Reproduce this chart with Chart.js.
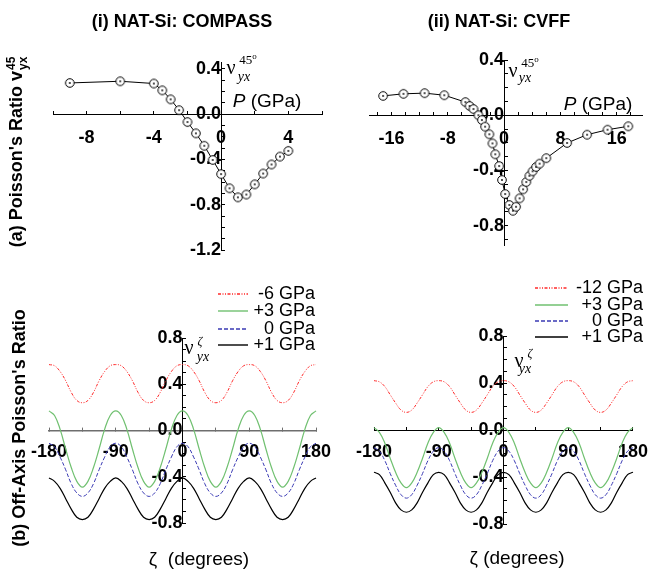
<!DOCTYPE html>
<html>
<head>
<meta charset="utf-8">
<script src="https://cdn.jsdelivr.net/npm/chart.js@4.4.1/dist/chart.umd.min.js"></script>
<style>
body { margin: 0; background: #fff; }
#page { position: relative; width: 663px; height: 570px; overflow: hidden; font-family: "Liberation Sans", Arial, sans-serif; color: #000; }
canvas { position: absolute; left: 0; top: 0; }
.t { position: absolute; white-space: nowrap; transform: translate(-50%, -50%); line-height: 1; }
.bold { font-weight: bold; font-size: 18px; }
.rot { transform: translate(-50%, -50%) rotate(-90deg); }
.serif { font-family: "Liberation Serif", "Times New Roman", serif; }
.ss { display: inline-flex; flex-direction: column; vertical-align: middle; font-size: 12px; line-height: 1; margin-left: 1px; }
</style>
</head>
<body>
<div id="page">
  <canvas id="compassP" width="663" height="570"></canvas>
  <canvas id="cvffP" width="663" height="570"></canvas>
  <canvas id="compassZ" width="663" height="570"></canvas>
  <canvas id="cvffZ" width="663" height="570"></canvas>

  <div class="t bold" style="left:182px; top:21px;">(i) NAT-Si: COMPASS</div>
  <div class="t bold" style="left:499px; top:21px;">(ii) NAT-Si: CVFF</div>

  <div class="t bold rot" style="left:17px; top:152px;">(a) Poisson's Ratio v<span class="ss"><span>45</span><span>yx</span></span></div>
  <div class="t bold rot" style="left:19px; top:428px;">(b) Off-Axis Poisson's Ratio</div>

  <div class="t" style="left:199px; top:558px; font-size:19px;">ζ&nbsp; (degrees)</div>
  <div class="t" style="left:517px; top:557px; font-size:19px;">ζ (degrees)</div>

  <div class="t" style="left:267px; top:100px; font-size:19px;"><i>P</i> (GPa)</div>
  <div class="t" style="left:598px; top:103px; font-size:19px;"><i>P</i> (GPa)</div>

  <!-- nu labels -->
  <div class="t serif" style="left:231px; top:67px; font-size:20px;">ν</div>
  <div class="t serif" style="left:248px; top:59px; font-size:13px;">45<sup style="font-size:9px;">o</sup></div>
  <div class="t serif" style="left:244px; top:77px; font-size:14px;"><i>yx</i></div>

  <div class="t serif" style="left:513px; top:70px; font-size:20px;">ν</div>
  <div class="t serif" style="left:530px; top:62px; font-size:13px;">45<sup style="font-size:9px;">o</sup></div>
  <div class="t serif" style="left:525px; top:78px; font-size:14px;"><i>yx</i></div>

  <div class="t serif" style="left:189px; top:347px; font-size:20px;">ν</div>
  <div class="t serif" style="left:200px; top:341px; font-size:12px;"><i>ζ</i></div>
  <div class="t serif" style="left:203px; top:357px; font-size:14px;"><i>yx</i></div>

  <div class="t serif" style="left:519px; top:360px; font-size:20px;">ν</div>
  <div class="t serif" style="left:530px; top:353px; font-size:12px;"><i>ζ</i></div>
  <div class="t serif" style="left:525px; top:369px; font-size:14px;"><i>yx</i></div>
</div>
<script>
'use strict';

// (a)(i) COMPASS: nu_yx(45) against pressure
const compassPressure = [-9, -6, -4, -3.5, -3, -2.5, -2, -1.5, -1, -0.5, 0, 0.5, 1, 1.5, 2, 2.5, 3, 3.5, 4];
const compassNu45 = [0.275, 0.29, 0.27, 0.21, 0.13, 0.035, -0.07, -0.17, -0.28, -0.405, -0.53, -0.655, -0.735, -0.71, -0.62, -0.525, -0.445, -0.375, -0.325];

// (a)(ii) CVFF: nu_yx(45) against pressure
const cvffPressure = [-17.2, -14.3, -11.3, -8.5, -5.5, -4.9, -4.35, -3.65, -3.15, -2.7, -2.1, -1.65, -1.25, -0.7, -0.3, 0.15, 0.75, 1.25, 1.7, 2.2, 2.7, 3.15, 3.6, 4.05, 4.55, 5.05, 6.0, 8.95, 11.8, 14.7, 17.65];
const cvffNu45 = [0.14, 0.155, 0.16, 0.145, 0.095, 0.067, 0.045, 0.0, -0.035, -0.083, -0.138, -0.204, -0.283, -0.368, -0.469, -0.571, -0.65, -0.692, -0.663, -0.602, -0.537, -0.484, -0.439, -0.406, -0.375, -0.351, -0.311, -0.201, -0.141, -0.105, -0.08];

// (b) off-axis angle zeta (degrees)
const zeta = [-180, -172.5, -165, -157.5, -150, -142.5, -135, -127.5, -120, -112.5, -105, -97.5,
  -90, -82.5, -75, -67.5, -60, -52.5, -45, -37.5, -30, -22.5, -15, -7.5,
  0, 7.5, 15, 22.5, 30, 37.5, 45, 52.5, 60, 67.5, 75, 82.5,
  90, 97.5, 105, 112.5, 120, 127.5, 135, 142.5, 150, 157.5, 165, 172.5, 180];

// (b)(i) COMPASS
const compassMinus6 = [0.57, 0.56, 0.51, 0.43, 0.33, 0.26, 0.24, 0.26, 0.33, 0.43, 0.51, 0.56,
  0.57, 0.56, 0.51, 0.43, 0.33, 0.26, 0.24, 0.26, 0.33, 0.43, 0.51, 0.56,
  0.57, 0.56, 0.51, 0.43, 0.33, 0.26, 0.24, 0.26, 0.33, 0.43, 0.51, 0.56,
  0.57, 0.56, 0.51, 0.43, 0.33, 0.26, 0.24, 0.26, 0.33, 0.43, 0.51, 0.56, 0.57];
const compassPlus3 = [0.17, 0.13, 0.01, -0.16, -0.32, -0.44, -0.49, -0.44, -0.32, -0.16, 0.01, 0.13,
  0.17, 0.13, 0.01, -0.16, -0.32, -0.44, -0.49, -0.44, -0.32, -0.16, 0.01, 0.13,
  0.17, 0.13, 0.01, -0.16, -0.32, -0.44, -0.49, -0.44, -0.32, -0.16, 0.01, 0.13,
  0.17, 0.13, 0.01, -0.16, -0.32, -0.44, -0.49, -0.44, -0.32, -0.16, 0.01, 0.13, 0.17];
const compassZero = [-0.11, -0.14, -0.23, -0.34, -0.46, -0.54, -0.57, -0.54, -0.46, -0.34, -0.23, -0.14,
  -0.11, -0.14, -0.23, -0.34, -0.46, -0.54, -0.57, -0.54, -0.46, -0.34, -0.23, -0.14,
  -0.11, -0.14, -0.23, -0.34, -0.46, -0.54, -0.57, -0.54, -0.46, -0.34, -0.23, -0.14,
  -0.11, -0.14, -0.23, -0.34, -0.46, -0.54, -0.57, -0.54, -0.46, -0.34, -0.23, -0.14, -0.11];
const compassPlus1 = [-0.41, -0.44, -0.50, -0.59, -0.68, -0.75, -0.77, -0.75, -0.68, -0.59, -0.50, -0.44,
  -0.41, -0.44, -0.50, -0.59, -0.68, -0.75, -0.77, -0.75, -0.68, -0.59, -0.50, -0.44,
  -0.41, -0.44, -0.50, -0.59, -0.68, -0.75, -0.77, -0.75, -0.68, -0.59, -0.50, -0.44,
  -0.41, -0.44, -0.50, -0.59, -0.68, -0.75, -0.77, -0.75, -0.68, -0.59, -0.50, -0.44, -0.41];

// (b)(ii) CVFF
const cvffMinus12 = [0.42, 0.41, 0.37, 0.30, 0.23, 0.17, 0.15, 0.17, 0.23, 0.30, 0.37, 0.41,
  0.42, 0.41, 0.37, 0.30, 0.23, 0.17, 0.15, 0.17, 0.23, 0.30, 0.37, 0.41,
  0.42, 0.41, 0.37, 0.30, 0.23, 0.17, 0.15, 0.17, 0.23, 0.30, 0.37, 0.41,
  0.42, 0.41, 0.37, 0.30, 0.23, 0.17, 0.15, 0.17, 0.23, 0.30, 0.37, 0.41, 0.42];
const cvffPlus3 = [0.02, -0.02, -0.11, -0.24, -0.36, -0.45, -0.49, -0.45, -0.36, -0.24, -0.11, -0.02,
  0.02, -0.02, -0.11, -0.24, -0.36, -0.45, -0.49, -0.45, -0.36, -0.24, -0.11, -0.02,
  0.02, -0.02, -0.11, -0.24, -0.36, -0.45, -0.49, -0.45, -0.36, -0.24, -0.11, -0.02,
  0.02, -0.02, -0.11, -0.24, -0.36, -0.45, -0.49, -0.45, -0.36, -0.24, -0.11, -0.02, 0.02];
const cvffZero = [-0.15, -0.18, -0.26, -0.37, -0.47, -0.55, -0.58, -0.55, -0.47, -0.37, -0.26, -0.18,
  -0.15, -0.18, -0.26, -0.37, -0.47, -0.55, -0.58, -0.55, -0.47, -0.37, -0.26, -0.18,
  -0.15, -0.18, -0.26, -0.37, -0.47, -0.55, -0.58, -0.55, -0.47, -0.37, -0.26, -0.18,
  -0.15, -0.18, -0.26, -0.37, -0.47, -0.55, -0.58, -0.55, -0.47, -0.37, -0.26, -0.18, -0.15];
const cvffPlus1 = [-0.36, -0.38, -0.45, -0.53, -0.62, -0.68, -0.70, -0.68, -0.62, -0.53, -0.45, -0.38,
  -0.36, -0.38, -0.45, -0.53, -0.62, -0.68, -0.70, -0.68, -0.62, -0.53, -0.45, -0.38,
  -0.36, -0.38, -0.45, -0.53, -0.62, -0.68, -0.70, -0.68, -0.62, -0.53, -0.45, -0.38,
  -0.36, -0.38, -0.45, -0.53, -0.62, -0.68, -0.70, -0.68, -0.62, -0.53, -0.45, -0.38, -0.36];

const compassLegend = ['-6 GPa', '+3 GPa', '0 GPa', '+1 GPa'];
const cvffLegend = ['-12 GPa', '+3 GPa', '0 GPa', '+1 GPa'];

// tick labels
const compassPTicks = [-8, -4, 0, 4];
const cvffPTicks = [-16, -8, 0, 8, 16];
const nuTicksA1 = [0.4, 0, -0.4, -0.8, -1.2];
const nuTicksA2 = [0.4, 0, -0.4, -0.8];
const zetaTicks = [-180, -90, 0, 90, 180];
const nuTicksB = [0.8, 0.4, 0, -0.4, -0.8];

const tickFont = {family: 'Liberation Sans', weight: 'bold', size: 18};

function hasTick(list, v) {
    return list.some(t => Math.abs(t - v) < 1e-6);
}

// tick marks at every multiple of step inside the range
function stepTicks(step) {
    return s => {
        const out = [];
        const k0 = Math.ceil(s.min / step - 1e-6);
        const k1 = Math.floor(s.max / step + 1e-6);
        for (let k = k0; k <= k1; k++) {
            out.push({value: +(k * step).toFixed(6)});
        }
        s.ticks = out;
    };
}

function xAxis(min, max, step, labels, pad, lineColor, lineWidth) {
    return {
        type: 'linear', min: min, max: max, position: {y: 0}, z: 1,
        afterFit: s => { s.height = 0; },
        afterBuildTicks: stepTicks(step),
        border: {color: lineColor || '#000', width: lineWidth || 1},
        grid: {drawOnChartArea: false, tickLength: -4, color: lineColor || '#000'},
        ticks: {
            padding: pad, color: '#000', font: tickFont,
            autoSkip: false, maxRotation: 0, minRotation: 0,
            callback: v => hasTick(labels, v) ? String(Math.round(v)) : ''
        }
    };
}

function yAxis(min, max, step, labels, pad, z) {
    return {
        type: 'linear', min: min, max: max, position: {x: 0}, z: z,
        afterFit: s => { s.width = 0; },
        afterBuildTicks: stepTicks(step),
        border: {color: '#000', width: 1},
        grid: {drawOnChartArea: false, tickLength: -4, color: '#000'},
        ticks: {
            padding: pad, color: '#000', font: tickFont, autoSkip: false,
            callback: v => hasTick(labels, v) ? (Math.abs(v) < 1e-9 ? '0.0' : v.toFixed(1)) : ''
        }
    };
}

// open circle with a dot in the middle
function makeMarker() {
    const c = document.createElement('canvas');
    c.width = 12;
    c.height = 12;
    const g = c.getContext('2d');
    g.fillStyle = '#fff';
    g.strokeStyle = '#000';
    g.lineWidth = 1;
    g.beginPath();
    g.arc(6, 6, 4.3, 0, Math.PI * 2);
    g.fill();
    g.stroke();
    g.fillStyle = '#000';
    g.beginPath();
    g.arc(6, 6, 0.9, 0, Math.PI * 2);
    g.fill();
    return c;
}
const marker = makeMarker();

function pairs(xs, ys) {
    return xs.map((x, i) => ({x: x, y: ys[i]}));
}

function pressureChart(id, xs, ys, pad, xr, yr, xTicks, yTicks, yPad) {
    new Chart(document.getElementById(id), {
        type: 'line',
        data: {
            datasets: [{
                data: pairs(xs, ys),
                borderColor: '#000', borderWidth: 1, tension: 0,
                pointStyle: marker, pointRadius: 5, clip: false
            }]
        },
        options: {
            responsive: false, animation: false,
            layout: {padding: pad},
            plugins: {legend: {display: false}, tooltip: {enabled: false}},
            scales: {
                x: xAxis(xr[0], xr[1], 2, xTicks, 17.5),
                y: yAxis(yr[0], yr[1], 0.1, yTicks, yPad, 0)
            }
        }
    });
}

pressureChart('compassP', compassPressure, compassNu45,
    {left: 53, top: 62, right: 341, bottom: 320}, [-10, 6], [-1.2, 0.46], compassPTicks, nuTicksA1, 17);
pressureChart('cvffP', cvffPressure, cvffNu45,
    {left: 369, top: 60, right: 21, bottom: 325}, [-19.2, 19.6], [-0.94, 0.4], cvffPTicks, nuTicksA2, 13);

const lineStyles = [
    {borderColor: '#ff2a2a', borderWidth: 1, borderDash: [3, 1.5, 1, 1.5, 1, 1.5]},
    {borderColor: '#70c070', borderWidth: 1.2, borderDash: []},
    {borderColor: '#3a3ab4', borderWidth: 1, borderDash: [4, 2]},
    {borderColor: '#000000', borderWidth: 1.2, borderDash: []}
];

// legend drawn beside the plot, using the same line styles
function legendPlugin(rows, x1, x2, xText) {
    return {
        id: 'sideLegend',
        afterDraw(chart) {
            const ctx = chart.ctx;
            ctx.save();
            chart.data.datasets.forEach((ds, i) => {
                const y = rows[i];
                ctx.strokeStyle = ds.borderColor;
                ctx.lineWidth = 1.4;
                ctx.setLineDash(ds.borderDash);
                ctx.beginPath();
                ctx.moveTo(x1, y);
                ctx.lineTo(x2, y);
                ctx.stroke();
                ctx.setLineDash([]);
                ctx.fillStyle = '#000';
                ctx.font = '18px "Liberation Sans"';
                ctx.textAlign = 'right';
                ctx.textBaseline = 'middle';
                ctx.fillText(ds.label, xText, y);
            });
            ctx.restore();
        }
    };
}

function zetaChart(id, series, names, pad, legend, axisColor, axisWidth) {
    new Chart(document.getElementById(id), {
        type: 'line',
        data: {
            datasets: series.map((ys, i) => Object.assign({
                label: names[i],
                data: pairs(zeta, ys),
                tension: 0.4, pointRadius: 0, clip: false
            }, lineStyles[i]))
        },
        options: {
            responsive: false, animation: false,
            layout: {padding: pad},
            plugins: {legend: {display: false}, tooltip: {enabled: false}},
            scales: {
                x: xAxis(-180, 180, 45, zetaTicks, 15, axisColor, axisWidth),
                y: yAxis(-0.8, 0.8, 0.1, nuTicksB, 13.5, 1)
            }
        },
        plugins: [legend]
    });
}

zetaChart('compassZ', [compassMinus6, compassPlus3, compassZero, compassPlus1], compassLegend,
    {left: 49, top: 338, right: 347, bottom: 47},
    legendPlugin([294, 311, 329, 345], 218, 248, 315), '#6e6e6e', 1.6);
zetaChart('cvffZ', [cvffMinus12, cvffPlus3, cvffZero, cvffPlus1], cvffLegend,
    {left: 374, top: 336, right: 22, bottom: 46},
    legendPlugin([288, 305, 321, 337], 535, 568, 643), '#000', 1);
</script>
</body>
</html>
